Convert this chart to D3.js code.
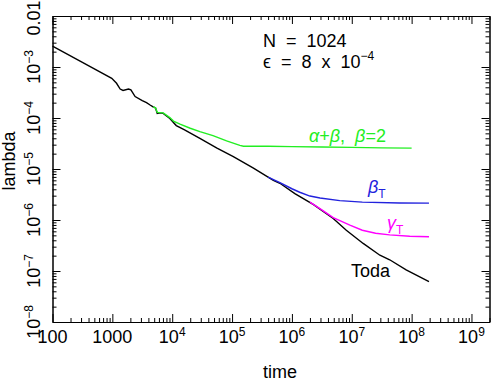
<!DOCTYPE html>
<html>
<head>
<meta charset="utf-8">
<script src="https://cdn.jsdelivr.net/npm/d3@7"></script>
<style>
  body { margin: 0; background: #fff; }
  svg { font-family: "Liberation Sans", Arial, sans-serif; }
</style>
</head>
<body>
<div id="chart"></div>
<script>
"use strict";

// values: [time, lambda]
var toda = [
  [100, 2.57e-3], [316, 1.23e-3], [977, 6.0e-4], [1175, 4.8e-4], [1350, 3.7e-4],
  [1510, 3.47e-4], [1860, 3.7e-4], [2040, 3.55e-4], [2400, 2.63e-4], [3160, 2.19e-4],
  [3720, 2.0e-4], [4270, 1.8e-4], [4790, 1.66e-4], [5250, 1.58e-4], [5620, 1.23e-4],
  [6310, 1.26e-4], [7080, 1.23e-4], [9120, 9.8e-5], [1.17e4, 7.1e-5], [1.58e4, 5.9e-5],
  [2.9e4, 4.0e-5], [5.6e4, 2.57e-5], [1.05e5, 1.74e-5], [2.24e5, 1.05e-5], [4.9e5, 6.0e-6],
  [6.3e5, 5.25e-6], [1.12e6, 3.3e-6], [2.3e6, 2.0e-6], [4.9e6, 1.07e-6], [8.1e6, 6.3e-7],
  [1.55e7, 3.47e-7], [2.95e7, 2.04e-7], [4.3e7, 1.66e-7], [8.1e7, 1.05e-7], [1.95e8, 6.2e-8]
];
var alphaBeta = [
  [4790, 1.66e-4], [5250, 1.58e-4], [5620, 1.29e-4], [7080, 1.26e-4], [9120, 1.02e-4],
  [1.05e4, 8.7e-5], [1.35e4, 7.6e-5], [2.0e4, 6.3e-5], [2.9e4, 5.4e-5], [4.8e4, 4.5e-5],
  [8.1e4, 3.55e-5], [1.35e5, 2.9e-5], [1.55e5, 2.8e-5], [4.0e5, 2.79e-5], [1e6, 2.75e-5],
  [3.16e6, 2.7e-5], [1e7, 2.66e-5], [3.16e7, 2.6e-5], [1e8, 2.57e-5]
];
var betaT = [
  [4.0e5, 6.9e-6], [6.3e5, 5.4e-6], [1e6, 4.1e-6], [1.35e6, 3.5e-6], [2.0e6, 2.95e-6],
  [2.95e6, 2.7e-6], [6.3e6, 2.4e-6], [1.5e7, 2.24e-6], [6.3e7, 2.16e-6], [1.95e8, 2.14e-6]
];
var gammaT = [
  [2.0e6, 2.24e-6], [3.16e6, 1.58e-6], [4.9e6, 1.11e-6], [9.3e6, 7.9e-7], [1.5e7, 6.3e-7],
  [2.5e7, 5.5e-7], [4.3e7, 5.1e-7], [9.3e7, 4.8e-7], [1.95e8, 4.7e-7]
];

var xMajor = [1e2, 1e3, 1e4, 1e5, 1e6, 1e7, 1e8, 1e9];
var xLabels = [["100"], ["1000"], ["10", "4"], ["10", "5"], ["10", "6"], ["10", "7"], ["10", "8"], ["10", "9"]];
var yMajor = [1e-8, 1e-7, 1e-6, 1e-5, 1e-4, 1e-3, 1e-2];
var yLabels = [["10", "\u22128"], ["10", "\u22127"], ["10", "\u22126"], ["10", "\u22125"], ["10", "\u22124"], ["10", "\u22123"], ["0.01"]];

var width = 491, height = 381;
var margin = {left: 52.5, right: 489.5, top: 16, bottom: 322};

var svg = d3.select("#chart").append("svg")
    .attr("width", width)
    .attr("height", height);

var x = d3.scaleLog().domain([100, 2e9]).range([margin.left, margin.right]);
var y = d3.scaleLog().domain([1e-8, 1e-2]).range([margin.bottom, margin.top]);

// minor ticks 2..9 in each decade
var xMinor = [];
xMajor.forEach(function (d) {
  for (var k = 2; k <= 9; k++) if (d * k <= 2e9) xMinor.push(d * k);
});
var yMinor = [];
yMajor.slice(0, -1).forEach(function (d) {
  for (var k = 2; k <= 9; k++) yMinor.push(d * k);
});

function frameAxis(axis, tx, ty, vals, size) {
  var g = svg.append("g")
      .attr("transform", "translate(" + tx + "," + ty + ")")
      .call(axis.tickValues(vals).tickSize(size).tickSizeOuter(0).tickFormat(""));
  g.selectAll("line").attr("stroke", "#000");
  g.select(".domain").attr("stroke", "#000");
  return g;
}

frameAxis(d3.axisBottom(x), 0, margin.bottom, xMajor, -8);
frameAxis(d3.axisBottom(x), 0, margin.bottom, xMinor, -4);
frameAxis(d3.axisTop(x), 0, margin.top, xMajor, -8);
frameAxis(d3.axisTop(x), 0, margin.top, xMinor, -4);
frameAxis(d3.axisLeft(y), margin.left, 0, yMajor, -8);
frameAxis(d3.axisLeft(y), margin.left, 0, yMinor, -4);
frameAxis(d3.axisRight(y), margin.right, 0, yMajor, -8);
frameAxis(d3.axisRight(y), margin.right, 0, yMinor, -4);

// x tick labels
svg.append("g").selectAll("text")
  .data(xMajor)
  .enter().append("text")
  .attr("x", function (d) { return x(d); })
  .attr("y", 343)
  .attr("text-anchor", "middle")
  .attr("font-size", 18)
  .each(function (d, i) {
    var t = d3.select(this), lab = xLabels[i];
    t.append("tspan").text(lab[0]);
    if (lab[1]) t.append("tspan").attr("dy", -7).attr("font-size", 12).text(lab[1]);
  });

// y tick labels (rotated); the top one is nudged so it stays in the window
svg.append("g").selectAll("text")
  .data(yMajor)
  .enter().append("text")
  .attr("transform", function (d) {
    return "translate(40," + Math.max(y(d), 18) + ") rotate(-90)";
  })
  .attr("text-anchor", "middle")
  .attr("font-size", 18)
  .each(function (d, i) {
    var t = d3.select(this), lab = yLabels[i];
    t.append("tspan").text(lab[0]);
    if (lab[1]) t.append("tspan").attr("dy", -7).attr("font-size", 12).text(lab[1]);
  });

// axis titles
svg.append("text")
  .attr("x", 280).attr("y", 378)
  .attr("text-anchor", "middle")
  .attr("font-size", 18)
  .text("time");
svg.append("text")
  .attr("transform", "translate(15,161) rotate(-90)")
  .attr("text-anchor", "middle")
  .attr("font-size", 18)
  .text("lambda");

// curves
var line = d3.line()
  .x(function (d) { return x(d[0]); })
  .y(function (d) { return y(d[1]); });

var series = [
  { data: toda, color: "#000000" },
  { data: alphaBeta, color: "#22ee22" },
  { data: betaT, color: "#2222dd" },
  { data: gammaT, color: "#ff00ff" }
];
svg.append("g").selectAll("path")
  .data(series)
  .enter().append("path")
  .attr("d", function (d) { return line(d.data); })
  .attr("fill", "none")
  .attr("stroke", function (d) { return d.color; })
  .attr("stroke-width", 1.4);

// annotations
svg.append("text")
  .attr("x", 263).attr("y", 47)
  .attr("font-size", 18)
  .style("white-space", "pre")
  .text("N  =  1024");
var eps = svg.append("text")
  .attr("x", 263).attr("y", 68)
  .attr("font-size", 18)
  .style("white-space", "pre");
eps.append("tspan").text("\u03f5  =  8  x  10");
eps.append("tspan").attr("dy", -8).attr("font-size", 12).text("\u22124");

var ab = svg.append("text")
  .attr("x", 309).attr("y", 142)
  .attr("font-size", 18)
  .attr("fill", "#22ee22")
  .style("white-space", "pre");
ab.append("tspan").attr("font-style", "italic").text("\u03b1");
ab.append("tspan").text("+");
ab.append("tspan").attr("font-style", "italic").text("\u03b2");
ab.append("tspan").text(",  ");
ab.append("tspan").attr("font-style", "italic").text("\u03b2");
ab.append("tspan").text("=2");

var bt = svg.append("text")
  .attr("x", 368).attr("y", 193)
  .attr("font-size", 18)
  .attr("fill", "#2222dd");
bt.append("tspan").attr("font-style", "italic").text("\u03b2");
bt.append("tspan").attr("dy", 5).attr("font-size", 12).text("T");

var gt = svg.append("text")
  .attr("x", 387).attr("y", 229)
  .attr("font-size", 18)
  .attr("fill", "#ff00ff");
gt.append("tspan").attr("font-style", "italic").text("\u03b3");
gt.append("tspan").attr("dy", 5).attr("font-size", 12).text("T");

svg.append("text")
  .attr("x", 351).attr("y", 277)
  .attr("font-size", 18)
  .text("Toda");
</script>
</body>
</html>
